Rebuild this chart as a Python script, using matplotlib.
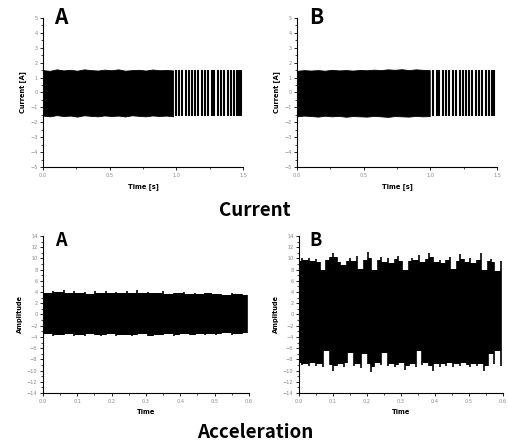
import numpy as np
import matplotlib
matplotlib.use("Agg")
import matplotlib.pyplot as plt
from matplotlib.ticker import MultipleLocator

# current signals: envelope of the dense part, then single strokes
cur_a_upper = [1.5, 1.45, 1.55, 1.48, 1.52, 1.46, 1.55, 1.5, 1.47, 1.53,
               1.49, 1.55, 1.46, 1.5, 1.52, 1.47, 1.54, 1.49, 1.51, 1.48]
cur_a_lower = [-1.55, -1.6, -1.52, -1.58, -1.55, -1.62, -1.53, -1.57, -1.6, -1.54,
               -1.58, -1.55, -1.61, -1.53, -1.57, -1.6, -1.54, -1.58, -1.55, -1.6]
cur_a_end = 0.975
cur_a_strokes = [0.995, 1.02, 1.045, 1.07, 1.095, 1.115, 1.14, 1.165, 1.19, 1.215,
                 1.24, 1.265, 1.285, 1.31, 1.335, 1.36, 1.385, 1.41, 1.43, 1.452,
                 1.47, 1.485]

cur_b_upper = [1.45, 1.5, 1.47, 1.5, 1.46, 1.52, 1.48, 1.5, 1.47, 1.51,
               1.49, 1.53, 1.5, 1.55, 1.52, 1.56, 1.5, 1.55, 1.52, 1.5]
cur_b_lower = [-1.6, -1.55, -1.58, -1.62, -1.56, -1.6, -1.57, -1.63, -1.58, -1.6,
               -1.62, -1.57, -1.6, -1.64, -1.58, -1.6, -1.62, -1.57, -1.6, -1.58]
cur_b_end = 0.995
cur_b_strokes = [1.018, 1.048, 1.067, 1.093, 1.118, 1.143, 1.168, 1.193, 1.218, 1.243,
                 1.263, 1.288, 1.313, 1.338, 1.363, 1.388, 1.413, 1.438, 1.458, 1.478]

# acceleration envelopes
acc_a_upper = [4.1, 3.9, 4.2, 4.0, 4.3, 3.8, 4.1, 3.9, 4.0, 3.7, 4.1, 3.9, 4.2, 3.8,
               4.0, 3.9, 4.1, 3.8, 4.3, 3.9, 4.0, 3.8, 3.9, 4.1, 3.7, 3.9, 3.8, 4.0,
               3.7, 3.8, 3.6, 3.8, 3.9, 3.6, 3.7, 3.5, 3.8, 3.6, 3.7, 3.5]
acc_a_lower = [-3.7, -3.5, -3.8, -3.6, -3.7, -3.4, -3.8, -3.6, -3.9, -3.5, -3.7, -3.8,
               -3.6, -3.5, -3.9, -3.7, -3.6, -3.8, -3.7, -3.5, -3.8, -3.9, -3.6, -3.7,
               -3.5, -3.8, -3.6, -3.4, -3.7, -3.6, -3.5, -3.7, -3.4, -3.6, -3.5, -3.3,
               -3.6, -3.4, -3.5, -3.3]
acc_b_upper = [9.6, 10.0, 9.8, 10.1, 9.5, 9.9, 9.3, 8.0, 9.7, 10.3, 11.0, 10.2, 9.4, 8.9,
               9.6, 10.0, 9.5, 10.4, 8.1, 9.8, 11.2, 10.1, 7.9, 9.7, 10.2, 9.4, 10.0, 9.2,
               9.9, 10.4, 9.6, 8.0, 9.5, 10.1, 9.8, 10.6, 9.3, 9.9, 11.0, 10.2, 9.4, 9.8,
               9.1, 9.7, 10.3, 8.2, 9.6, 10.8, 9.9, 9.4, 10.0, 9.2, 9.8, 10.9, 8.0, 9.5,
               9.9, 9.3, 7.8, 9.6]
acc_b_lower = [-8.7, -9.0, -8.8, -9.2, -8.6, -9.1, -8.9, -9.3, -6.6, -9.0, -10.0, -9.2,
               -8.8, -9.4, -8.7, -6.9, -9.1, -8.8, -9.5, -7.0, -8.9, -10.2, -9.3, -8.7,
               -9.0, -6.8, -9.2, -8.8, -9.4, -9.0, -8.6, -9.9, -9.1, -8.8, -9.3, -6.6,
               -9.0, -8.7, -9.2, -10.1, -8.9, -9.3, -8.8, -9.1, -8.6, -9.4, -8.9, -9.2,
               -8.7, -9.0, -9.3, -8.8, -9.1, -8.9, -10.0, -9.2, -7.0, -8.8, -6.5, -9.1]
acc_end = 0.595

title_font = 'Noto Sans CJK KR'


def style_axes(ax, xlim, ylim, xmaj, xmin, ymaj, ymin, xlabel, ylabel):
    ax.set_xlim(*xlim)
    ax.set_ylim(*ylim)
    ax.spines['top'].set_visible(False)
    ax.spines['right'].set_visible(False)
    ax.xaxis.set_major_locator(MultipleLocator(xmaj))
    ax.xaxis.set_minor_locator(MultipleLocator(xmin))
    ax.yaxis.set_major_locator(MultipleLocator(ymaj))
    ax.yaxis.set_minor_locator(MultipleLocator(ymin))
    ax.xaxis.set_major_formatter('{x:.1f}')
    ax.tick_params(which='major', length=2.5, width=0.6, labelsize=3.6,
                   labelcolor='#888888', pad=1.5)
    ax.tick_params(which='minor', length=1.5, width=0.5)
    for s in ('left', 'bottom'):
        ax.spines[s].set_linewidth(0.8)
    ax.set_xlabel(xlabel, fontsize=4.8, fontweight='bold', labelpad=4)
    ax.set_ylabel(ylabel, fontsize=4.8, fontweight='bold', labelpad=3)


def current_panel(ax, upper, lower, end, strokes):
    t = np.linspace(0, end, len(upper))
    ax.fill_between(t, lower, upper, color='black', lw=0.6, edgecolor='black')
    ax.vlines(strokes, -1.57, 1.52, color='black', lw=1.5)
    style_axes(ax, (0, 1.5), (-5, 5), 0.5, 0.25, 1, 0.5,
               'Time [s]', 'Current [A]')


def accel_panel(ax, upper, lower):
    t = np.linspace(0, acc_end, len(upper))
    up = np.array(upper)
    lo = np.array(lower)
    # solid body between neighbouring samples, each sample drawn as a thin spike
    body_up = np.minimum(up, np.append(up[1:], up[-1]))
    body_lo = np.maximum(lo, np.append(lo[1:], lo[-1]))
    ax.fill_between(t, body_lo, body_up, step='post', color='black', lw=0)
    ax.vlines(t, lo, up, color='black', lw=1.2)
    style_axes(ax, (0, 0.6), (-14, 14), 0.1, 0.05, 2, 1,
               'Time', 'Amplitude')


fig = plt.figure(figsize=(5.08, 4.45), dpi=100)
ax1 = fig.add_axes([0.0846, 0.6247, 0.394, 0.335])
ax2 = fig.add_axes([0.5846, 0.6247, 0.394, 0.335])
ax3 = fig.add_axes([0.0846, 0.1169, 0.4055, 0.3528])
ax4 = fig.add_axes([0.5886, 0.1169, 0.4015, 0.3528])

current_panel(ax1, cur_a_upper, cur_a_lower, cur_a_end, cur_a_strokes)
current_panel(ax2, cur_b_upper, cur_b_lower, cur_b_end, cur_b_strokes)
accel_panel(ax3, acc_a_upper, acc_a_lower)
accel_panel(ax4, acc_b_upper, acc_b_lower)

for x, y, s, fs in [(61, 17, 'A', 15), (316, 17, 'B', 15),
                    (61, 241, 'A', 13), (316, 241, 'B', 13)]:
    fig.text(x / 508, 1 - y / 445, s, fontsize=fs, fontweight='bold',
             family=title_font, ha='center', va='center')

fig.text(255 / 508, 1 - 210 / 445, 'Current', fontsize=13.5, fontweight='bold',
         family=title_font, ha='center', va='center')
fig.text(255 / 508, 1 - 433 / 445, 'Acceleration', fontsize=13.5, fontweight='bold',
         family=title_font, ha='center', va='center')

fig.savefig('out.png', dpi=100)
